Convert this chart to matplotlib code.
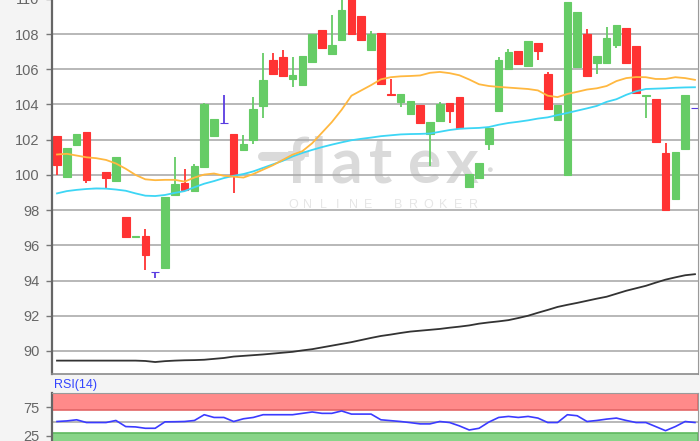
import matplotlib
matplotlib.use('Agg')
import matplotlib.pyplot as plt
import numpy as np

plt.rcParams.update({'font.size': 10})
plt.rcParams['font.family'] = ['Liberation Sans', 'DejaVu Sans']

# daily candles
opens = [102.2, 99.89, 101.7, 102.42, 99.23, 100.14, 99.66, 97.62, 96.5, 96.54,
         94.5, 94.73, 98.85, 99.55, 99.1, 100.46, 102.2, 102.97, 102.35, 101.44,
         101.97, 103.9, 106.54, 106.7, 105.47, 105.09, 106.41, 108.25, 106.88, 107.68,
         110.3, 109.04, 107.07, 108.08, 104.6, 104.14, 103.48, 103.95, 102.35, 103.05,
         104.1, 104.41, 99.29, 99.8, 101.78, 103.63, 106.0, 107.04, 106.19, 107.49,
         105.75, 103.1, 99.98, 106.13, 108.02, 106.36, 106.36, 107.4, 108.36, 107.34,
         104.5, 104.33, 101.25, 98.62, 101.5, 103.8]
highs = [102.2, 101.55, 102.35, 102.42, 99.23, 100.14, 101.02, 97.62, 96.55, 96.9,
         94.5, 98.76, 101.0, 100.36, 100.6, 104.1, 103.16, 104.56, 102.35, 102.29,
         104.43, 106.94, 106.94, 107.07, 106.7, 106.75, 107.98, 108.25, 109.1, 110.5,
         110.3, 109.04, 108.15, 108.08, 105.47, 104.62, 104.2, 103.95, 102.99, 104.15,
         104.1, 104.41, 100.08, 100.7, 102.67, 106.7, 107.17, 107.04, 107.58, 107.49,
         105.85, 103.97, 109.85, 109.25, 108.3, 106.75, 108.4, 108.53, 108.36, 107.34,
         104.54, 104.33, 101.84, 101.31, 104.56, 103.8]
lows = [100.0, 99.89, 101.7, 99.55, 99.23, 99.2, 99.66, 96.4, 96.5, 94.6,
        94.13, 94.73, 98.85, 99.13, 99.1, 100.46, 102.2, 102.97, 98.95, 101.44,
        101.78, 103.26, 105.75, 105.6, 105.0, 105.09, 106.41, 107.22, 106.88, 107.68,
        107.98, 107.68, 107.07, 105.18, 104.55, 103.86, 103.48, 102.97, 100.51, 103.05,
        102.95, 102.67, 99.29, 99.8, 101.4, 103.63, 106.0, 106.28, 106.19, 106.5,
        103.77, 103.1, 99.98, 106.13, 105.6, 105.71, 106.36, 107.22, 106.37, 104.65,
        103.26, 101.87, 98.0, 98.62, 101.5, 103.8]
closes = [100.55, 101.55, 102.35, 99.7, 99.23, 99.8, 101.02, 96.49, 96.55, 95.45,
          94.5, 98.76, 99.47, 99.13, 100.51, 104.0, 103.16, 102.97, 99.93, 101.74,
          103.75, 105.37, 105.75, 105.6, 105.66, 106.75, 107.98, 107.22, 107.36, 109.34,
          107.98, 107.68, 108.0, 105.18, 104.55, 104.62, 104.2, 102.97, 102.99, 104.01,
          103.63, 102.67, 100.08, 100.7, 102.67, 106.54, 106.98, 106.28, 107.58, 107.02,
          103.77, 103.97, 109.85, 109.25, 105.6, 106.75, 107.79, 108.53, 106.37, 104.65,
          104.54, 101.87, 98.0, 101.31, 104.56, 103.8]

# moving averages
ma_short = [101.16, 101.2, 101.1, 101.0, 100.95, 100.85, 100.65, 100.35, 100.0, 99.75,
            99.7, 99.72, 99.72, 99.62, 99.85, 100.02, 100.08, 99.95, 99.9, 99.85,
            100.05, 100.3, 100.55, 100.85, 101.15, 101.35, 101.8, 102.4, 103.0, 103.7,
            104.5, 104.8, 105.1, 105.43, 105.55, 105.6, 105.62, 105.65, 105.8, 105.85,
            105.78, 105.66, 105.42, 105.15, 105.05, 105.0, 104.96, 104.92, 104.88, 104.8,
            104.5, 104.42, 104.6, 104.72, 104.85, 104.92, 105.05, 105.33, 105.5, 105.56,
            105.55, 105.45, 105.45, 105.55, 105.5, 105.4]
ma_mid = [98.95, 99.08, 99.15, 99.2, 99.23, 99.22, 99.17, 99.1, 98.95, 98.82,
          98.8, 98.86, 98.98, 99.08, 99.3, 99.5, 99.65, 99.82, 99.95, 100.05,
          100.2, 100.4, 100.6, 100.8, 101.05, 101.25, 101.42, 101.58, 101.72, 101.85,
          101.97, 102.05, 102.12, 102.2, 102.25, 102.3, 102.32, 102.33, 102.35, 102.45,
          102.55, 102.62, 102.65, 102.67, 102.72, 102.85, 102.95, 103.02, 103.1, 103.2,
          103.27, 103.4, 103.52, 103.65, 103.78, 103.92, 104.15, 104.3, 104.55, 104.75,
          104.88, 104.9, 104.92, 104.95, 104.97, 104.98]
ma_long = [89.45, 89.45, 89.45, 89.45, 89.45, 89.45, 89.45, 89.45, 89.45, 89.43,
           89.37, 89.42, 89.45, 89.47, 89.48, 89.5, 89.55, 89.6, 89.68, 89.72,
           89.76, 89.8, 89.85, 89.9, 89.95, 90.03, 90.1, 90.2, 90.3, 90.4,
           90.5, 90.62, 90.74, 90.85, 90.93, 91.02, 91.1, 91.15, 91.2, 91.25,
           91.32, 91.38, 91.45, 91.55, 91.62, 91.68, 91.75, 91.87, 92.0, 92.17,
           92.33, 92.5, 92.62, 92.73, 92.85, 92.97, 93.08, 93.25, 93.42, 93.56,
           93.7, 93.88, 94.05, 94.18, 94.3, 94.36]

rsi = [50, 51, 53, 48.2, 48.2, 48.2, 51.8, 41.1, 40.5, 38.1,
       38.1, 49.4, 49.6, 50, 51.8, 61.9, 57.1, 57.1, 50, 54.8,
       57.1, 61.9, 61.9, 61.9, 61.9, 64.3, 66.7, 64.3, 64.3, 68.5,
       63, 63, 63, 53, 51.5, 50, 48, 45.8, 45.8, 50,
       48.2, 42.3, 35.1, 38.1, 49, 57.1, 58.9, 57.1, 58.9, 56,
       48.2, 48.2, 61.9, 60.1, 50, 51.8, 54.2, 56, 51.8, 48.2,
       48.2, 41.1, 33.9, 41.1, 50, 48.2]

price_ticks = [90, 92, 94, 96, 98, 100, 102, 104, 106, 108, 110]
rsi_ticks = [25, 75]

up_col = '#66cc66'
down_col = '#ff3333'
flat_col = '#5a3de0'

x = np.arange(len(closes))
o = np.array(opens)
c = np.array(closes)
cols = [up_col if cc > oo else down_col if cc < oo else flat_col
        for oo, cc in zip(opens, closes)]

fig = plt.figure(figsize=(7, 4.41), dpi=100, facecolor='#f4f4f4')

# price panel
ax = fig.add_axes([52/700, 67/441, 646/700, 376/441])
ax.set_facecolor('white')
ax.set_xlim(-0.51, 65.31)
ax.set_ylim(88.69, 110.05)
ax.set_yticks(price_ticks)
ax.set_xticks([])
ax.grid(axis='y', color='#ababab', lw=1.2)
ax.set_axisbelow(True)

# watermark
wm = '#dadada'
for ch, px in zip('flatex', [298, 318, 346, 381, 425, 462]):
    ax.text(px/700, 1 - 183/441, ch, transform=fig.transFigure, ha='center',
            va='baseline', fontsize=45, color=wm, family='Lato',
            fontweight='bold', zorder=0.4)
ax.plot([262/700, 300/700], [1 - 156/441]*2, transform=fig.transFigure,
        color=wm, lw=6.5, solid_capstyle='round', zorder=0.4)
ax.text(489/700, 1 - 170/441, '\u25cf', transform=fig.transFigure, ha='center',
        va='center', fontsize=8, color=wm, zorder=0.4)
for k, ch in enumerate('ONLINE BROKER'):
    ax.text((293 + 15*k)/700, 1 - 205/441, ch, transform=fig.transFigure,
            ha='center', va='center', fontsize=9, color='#e6e6e6', zorder=0.4)

ax.vlines(x, lows, highs, colors=cols, lw=1.3, zorder=2)
ax.bar(x, c - o, bottom=o, width=0.78, color=cols, edgecolor=cols, lw=0.8,
       zorder=2)
ax.plot(x, ma_long, color='#333333', lw=1.3, zorder=3)
ax.plot(x, ma_mid, color='#3dd6f5', lw=1.3, zorder=3)
ax.plot(x, ma_short, color='#ffb840', lw=1.3, zorder=3)

ax.tick_params(axis='y', length=4, width=1, color='#777777',
               labelcolor='#666666', labelsize=10.5, pad=5)
ax.spines['top'].set_visible(False)
ax.spines['left'].set_color('#666666')
ax.spines['left'].set_linewidth(1.6)
ax.spines['bottom'].set_color('#8a8a8a')
ax.spines['bottom'].set_linewidth(1.2)
ax.spines['right'].set_color('#9a9a9a')

# RSI panel
ax2 = fig.add_axes([52/700, -9/441, 646/700, 57/441])
ax2.set_facecolor('white')
ax2.set_xlim(-0.51, 65.31)
ax2.set_ylim(0, 100)
ax2.axhspan(70, 100, facecolor='#ff8a8a', edgecolor='#e36767', lw=1.2)
ax2.axhspan(0, 30, facecolor='#88d488', edgecolor='#5fb95f', lw=1.2)
ax2.axhline(50, color='#ababab', lw=1.2)
ax2.plot(x, rsi, color='#3b3bff', lw=1.2)
ax2.set_yticks(rsi_ticks)
ax2.set_xticks([])
ax2.tick_params(axis='y', length=4, width=1, color='#777777',
                labelcolor='#666666', labelsize=10.5, pad=5)
ax2.spines['left'].set_color('#666666')
ax2.spines['left'].set_linewidth(1.6)
ax2.spines['right'].set_color('#9a9a9a')
ax2.spines['top'].set_color('#9a9a9a')
fig.text(54/700, 1 - 385/441, 'RSI(14)', color='#3344ff', fontsize=9,
         va='center', ha='left')

fig.savefig('out.png', dpi=100, facecolor=fig.get_facecolor())
